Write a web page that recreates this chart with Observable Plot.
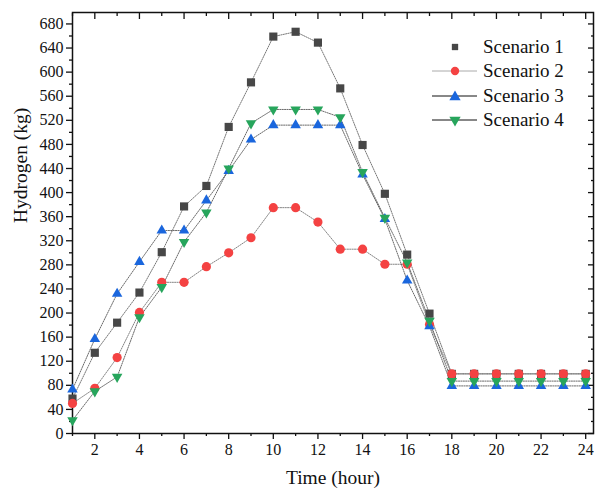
<!DOCTYPE html>
<html><head><meta charset="utf-8">
<script src="https://cdn.jsdelivr.net/npm/d3@7"></script>
<script src="https://cdn.jsdelivr.net/npm/@observablehq/plot@0.6"></script>
<style>
body{margin:0;background:#fff;}
#wrap{position:relative;width:598px;height:495px;font-family:"Liberation Serif","Times New Roman",serif;}
#legend{position:absolute;left:430px;top:35px;}
.item{position:relative;height:24.3px;width:160px;}
.item svg{position:absolute;left:0;top:0;}
.item span{position:absolute;left:53px;top:0;font-size:19px;line-height:24px;color:#111;}
</style></head><body><div id="wrap"></div>
<script>
const hours = [1,2,3,4,5,6,7,8,9,10,11,12,13,14,15,16,17,18,19,20,21,22,23,24];
const scenario1 = [58,134,184,234,301,377,411,509,583,659,667,649,573,479,398,297,199,99,99,99,99,99,99,99];
const scenario2 = [50,75,126,201,251,251,277,300,325,375,375,351,306,306,281,281,181,99,99,99,99,99,99,99];
const scenario3 = [73,157,232,285,337,337,387,436,488,512,512,512,512,430,356,254,178,79,79,79,79,79,79,79];
const scenario4 = [22,70,94,193,243,318,367,440,515,538,538,538,525,434,358,284,187,87,87,87,87,87,87,87];
const names = ["Scenario 1","Scenario 2","Scenario 3","Scenario 4"];
const colors = ["#474747","#f44242","#1a66dd","#27a55c"];
const symbols = ["square","circle","triangle","triangle"];
const rotations = [0,0,0,180];
const radii = [4.6,4.6,3.9,3.9];
const lineColors = ["#555","#666","#444","#444"];
const yTicks = [0,40,80,120,160,200,240,280,320,360,400,440,480,520,560,600,640,680];
const yMinor = [20,60,100,140,180,220,260,300,340,380,420,460,500,540,580,620,660];
const xTicks = [2,4,6,8,10,12,14,16,18,20,22,24];
const xMinor = [1,3,5,7,9,11,13,15,17,19,21,23];

const series = [scenario1,scenario2,scenario3,scenario4];
const rows = series.map((vals,s)=>vals.map((v,i)=>({hour:hours[i],value:v,name:names[s]})));

const marks = [];
rows.forEach((r,s)=>{
  marks.push(Plot.line(r,{x:"hour",y:"value",stroke:lineColors[s],strokeWidth:0.8,strokeDasharray:"1.2,1.2"}));
});
rows.forEach((r,s)=>{
  marks.push(Plot.dot(r,{x:"hour",y:"value",symbol:symbols[s],r:radii[s],fill:colors[s],stroke:"none",rotate:rotations[s]}));
});

const plot = Plot.plot({
  width:598, height:495,
  marginLeft:72, marginRight:5, marginTop:12, marginBottom:62,
  style:{fontFamily:"Liberation Serif, Times New Roman, serif", fontSize:"16px", background:"white", color:"#111"},
  x:{domain:[1,24.35]},
  y:{domain:[0,699]},
  marks:[
    Plot.axisY({ticks:yTicks, tickSize:6, tickPadding:3, tickFormat:d=>String(d), label:null, fontSize:16, strokeWidth:1.3}),
    Plot.axisY({ticks:yMinor, tickSize:3, tickFormat:()=>"", label:null, strokeWidth:1.3}),
    Plot.axisY({ticks:yTicks, anchor:"right", tickSize:-6, tickFormat:()=>"", label:null, strokeWidth:1.3}),
    Plot.axisY({ticks:yMinor, anchor:"right", tickSize:-3, tickFormat:()=>"", label:null, strokeWidth:1.3}),
    Plot.axisX({ticks:xTicks, tickSize:6, tickPadding:4, tickFormat:d=>String(d), label:null, fontSize:16, strokeWidth:1.3}),
    Plot.axisX({ticks:xMinor, tickSize:3, tickFormat:()=>"", label:null, strokeWidth:1.3}),
    Plot.axisX({ticks:xTicks, anchor:"top", tickSize:-6, tickFormat:()=>"", label:null, strokeWidth:1.3}),
    Plot.axisX({ticks:xMinor, anchor:"top", tickSize:-3, tickFormat:()=>"", label:null, strokeWidth:1.3}),
    Plot.frame({stroke:"#111", strokeWidth:1.5}),
    Plot.text(["Hydrogen (kg)"],{frameAnchor:"left", rotate:-90, dx:-52, fontSize:19.5, fill:"#111"}),
    Plot.text(["Time (hour)"],{frameAnchor:"bottom", dy:50, fontSize:19.5, fill:"#111"}),
    ...marks
  ]
});
const wrap = document.getElementById("wrap");
wrap.appendChild(plot);

// legend
const legend = document.createElement("div");
legend.id = "legend";
const legendLine = [null,"#aaa","#111","#111"];
names.forEach((n,i)=>{
  const item = document.createElement("div");
  item.className = "item";
  const svg = d3.create("svg").attr("width",50).attr("height",24);
  if (legendLine[i]) svg.append("line").attr("x1",2).attr("x2",47).attr("y1",12).attr("y2",12).attr("stroke",legendLine[i]).attr("stroke-width",1);
  const sym = {square:d3.symbolSquare,circle:d3.symbolCircle,triangle:d3.symbolTriangle}[symbols[i]];
  svg.append("path").attr("d",d3.symbol(sym, i===0?40:55)()).attr("fill",colors[i])
    .attr("transform",`translate(25,${i===2?13:12}) rotate(${rotations[i]})`);
  item.appendChild(svg.node());
  const sp = document.createElement("span");
  sp.textContent = n;
  item.appendChild(sp);
  legend.appendChild(item);
});
wrap.appendChild(legend);
</script>
</body></html>
